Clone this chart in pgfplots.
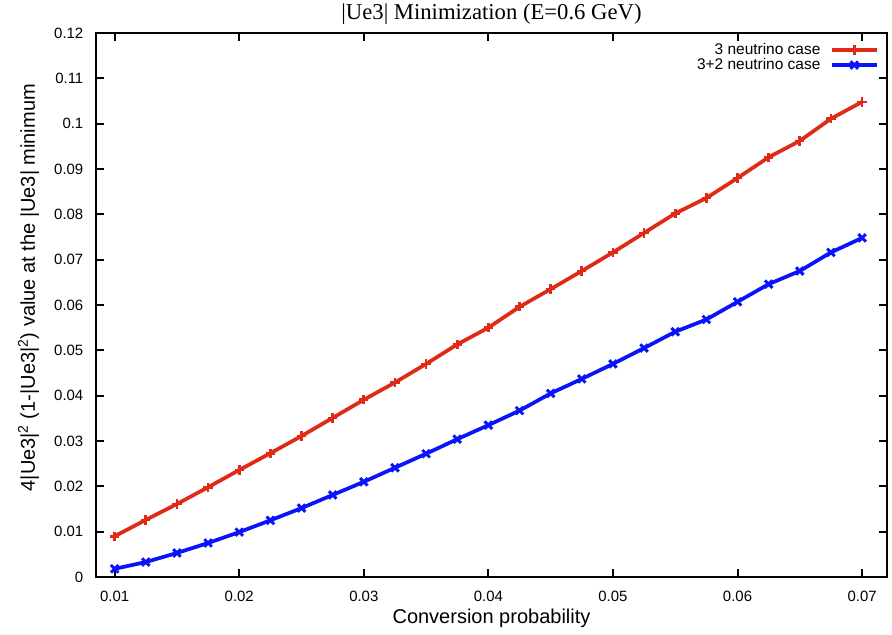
\documentclass[border=0pt]{standalone}
\usepackage{fontspec}
\setmainfont{Liberation Sans}
\newfontfamily\titlefont{Liberation Serif}
\usepackage{pgfplots}
\pgfplotsset{compat=1.18}
\definecolor{myred}{RGB}{222,42,22}
\definecolor{myblue}{RGB}{10,20,250}
\begin{document}
\begin{tikzpicture}
\path[use as bounding box] (-72pt,-43.5pt) rectangle (597pt,432.75pt);
\begin{axis}[
  at={(0pt,0pt)}, anchor=south west,
  scale only axis, width=593.25pt, height=408pt,
  xmin=0.0085, xmax=0.072, ymin=0, ymax=0.12,
  xtick={0.01,0.02,0.03,0.04,0.05,0.06,0.07},
  ytick={0,0.01,0.02,0.03,0.04,0.05,0.06,0.07,0.08,0.09,0.1,0.11,0.12},
  scaled ticks=false,
  /pgf/number format/fixed,
  /pgf/number format/precision=3,
  /pgf/number format/assume math mode=true,
  tick align=inside, major tick length=6pt,
  xtick pos=both, ytick pos=both,
  xticklabel pos=bottom, yticklabel pos=left,
  axis line style={line width=1.8pt},
  every tick/.style={black, line width=1.5pt},
  tick label style={font=\fontsize{11.2}{13}\selectfont},
  xticklabel style={yshift=-7pt},
  yticklabel style={xshift=-6pt},
  xlabel={Conversion probability},
  xlabel style={at={(axis description cs:0.5,0)}, anchor=center, yshift=-31pt, font=\fontsize{15}{17}\selectfont},
  ylabel={4|Ue3|\textsuperscript{2} (1-|Ue3|\textsuperscript{2}) value at the |Ue3| minimum},
  ylabel style={at={(axis description cs:0,0.5)}, anchor=center, yshift=50.5pt, xshift=13pt, font=\fontsize{15}{17}\selectfont},
  title={|Ue3| Minimization (E=0.6 GeV)},
  title style={at={(axis description cs:0.5,1)}, anchor=center, yshift=8.5pt, font=\titlefont\fontsize{17}{19}\selectfont},
  legend cell align=right,
  legend plot pos=right,
  legend style={draw=none, fill=none, inner sep=0pt, at={(axis description cs:0.99,0.983)}, anchor=north east,
    font=\fontsize{11.6}{13}\selectfont, row sep=0pt, column sep=5pt,
    nodes={inner ysep=1pt, inner xsep=2pt, text height=7.8pt, text depth=1.5pt}},
  legend image code/.code={\draw[mark repeat=2,mark phase=2] plot coordinates {(0pt,0pt) (17pt,0pt) (34pt,0pt)};},
]
\addplot[myred, line width=2.8pt, mark=+, mark size=3.5pt, mark options={line width=2pt, solid}] coordinates {
(0.01,0.0090) (0.0125,0.0126) (0.015,0.0161) (0.0175,0.0198) (0.02,0.0236)
(0.0225,0.0273) (0.025,0.0311) (0.0275,0.0351) (0.03,0.0391) (0.0325,0.0429)
(0.035,0.0470) (0.0375,0.0513) (0.04,0.0550) (0.0425,0.0596) (0.045,0.0635)
(0.0475,0.0675) (0.05,0.0716) (0.0525,0.0759) (0.055,0.0802) (0.0575,0.0836)
(0.06,0.0880) (0.0625,0.0926) (0.065,0.0962) (0.0675,0.1011) (0.07,0.1048)
};
\addlegendentry{3 neutrino case}
\addplot[myblue, line width=2.8pt, mark=x, mark size=4pt, mark options={line width=2.2pt, solid}] coordinates {
(0.01,0.0018) (0.0125,0.0033) (0.015,0.0053) (0.0175,0.0075) (0.02,0.0099)
(0.0225,0.0125) (0.025,0.0152) (0.0275,0.0181) (0.03,0.0210) (0.0325,0.0241)
(0.035,0.0272) (0.0375,0.0304) (0.04,0.0335) (0.0425,0.0367) (0.045,0.0405)
(0.0475,0.0437) (0.05,0.0470) (0.0525,0.0505) (0.055,0.0541) (0.0575,0.0568)
(0.06,0.0607) (0.0625,0.0646) (0.065,0.0675) (0.0675,0.0716) (0.07,0.0748)
};
\addlegendentry{3+2 neutrino case}
\end{axis}
\end{tikzpicture}
\end{document}
